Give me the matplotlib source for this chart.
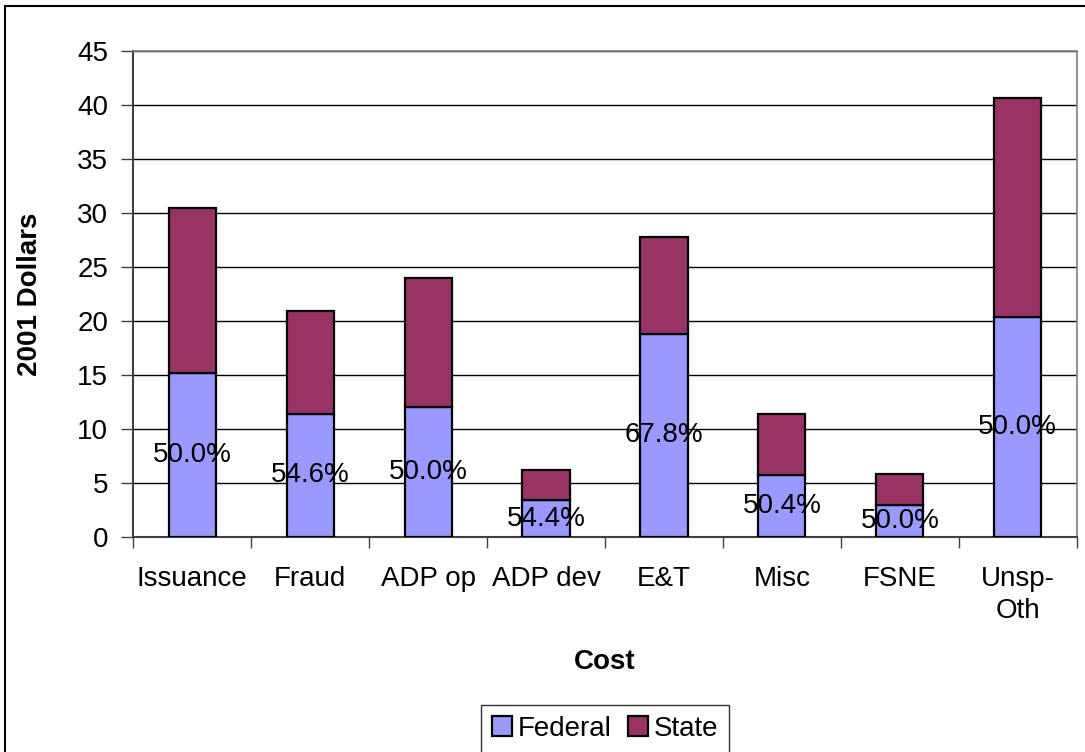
import numpy as np
import matplotlib
matplotlib.use("Agg")
import matplotlib.pyplot as plt
from matplotlib.patches import Rectangle

plt.rcParams['font.family'] = ['Liberation Sans', 'DejaVu Sans']

categories = ["Issuance", "Fraud", "ADP op", "ADP dev", "E&T", "Misc", "FSNE", "Unsp-\nOth"]
federal = [15.2, 11.4, 12.0, 3.37, 18.8, 5.7, 2.9, 20.3]
state = [15.2, 9.5, 12.0, 2.83, 8.95, 5.65, 2.9, 20.3]
pct_labels = ["50.0%", "54.6%", "50.0%", "54.4%", "67.8%", "50.4%", "50.0%", "50.0%"]

fs = 20
fed_color = '#9999FF'
state_color = '#993366'

fig = plt.figure(figsize=(10.85, 7.52), dpi=100)
ax = fig.add_axes([133.3/1085, 1 - 536.7/752, (1076.7-133.3)/1085, (536.7-50.7)/752])

x = np.arange(len(categories))
ax.bar(x, federal, width=0.4, color=fed_color, edgecolor='black', linewidth=1.6, label='Federal', zorder=3)
ax.bar(x, state, width=0.4, bottom=federal, color=state_color, edgecolor='black', linewidth=1.6, label='State', zorder=3)

for xi, f, lab in zip(x, federal, pct_labels):
    ax.text(xi, f/2, lab, ha='center', va='center', fontsize=fs, zorder=4)

ax.set_xlim(-0.5, 7.5)
ax.set_ylim(0, 45)
ax.set_yticks(np.arange(0, 46, 5))
ax.yaxis.grid(True, color='black', linewidth=1, zorder=0)
ax.tick_params(axis='y', length=9, width=1, color='#404040', labelsize=fs, pad=9)

ax.set_xticks(x)
ax.set_xticklabels(categories, fontsize=fs, va='top', linespacing=1.3)
ax.set_xticks(np.arange(-0.5, 8, 1), minor=True)
ax.tick_params(axis='x', which='major', length=0, pad=21)
ax.tick_params(axis='x', which='minor', length=8, width=1, color='#404040')

for side in ['left', 'bottom']:
    ax.spines[side].set_color('#404040')
    ax.spines[side].set_linewidth(1.5)
for side in ['top', 'right']:
    ax.spines[side].set_color('#808080')
    ax.spines[side].set_linewidth(1.2)

fig.text(30/1085, 1 - 294/752, "2001 Dollars", rotation=90, ha='center', va='center',
         fontsize=fs, fontweight='bold')
fig.text(605/1085, 1 - 662/752, "Cost", ha='center', va='center', fontsize=fs, fontweight='bold')

leg = fig.legend(loc='center', bbox_to_anchor=(605/1085, 1 - 729/752), ncol=2, fontsize=fs,
                 frameon=True, fancybox=False, edgecolor='black', handlelength=0.72, handleheight=0.72,
                 handletextpad=0.2, columnspacing=0.6, borderpad=0.38, borderaxespad=0)
leg.get_frame().set_linewidth(1)
for h in leg.legend_handles:
    h.set_linewidth(1.6)

# outer chart border (only left and top visible in the reference)
fig.patches.append(Rectangle((5/1085, -0.1), 1.2, 1 - 6/752 + 0.1, transform=fig.transFigure,
                             fill=False, edgecolor='black', linewidth=1.5))

fig.savefig("out.png", dpi=100)
